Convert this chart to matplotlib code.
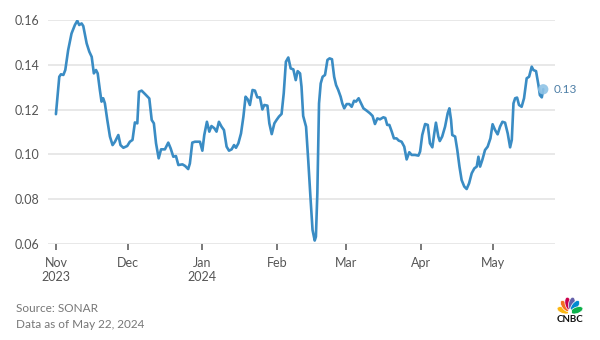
import numpy as np
import matplotlib
matplotlib.use("Agg")
import matplotlib.pyplot as plt
import matplotlib.dates as mdates
from matplotlib.patches import Ellipse
import datetime as dt

# Days since 2023-11-01 and the index value
days = [0, 1.4, 2.1, 3.1, 3.9, 5.1, 6.5, 7.9, 8.9, 9.7, 10.7, 11.4, 12.8, 13.9, 14.9, 15.8,
        16.7, 17.4, 18.3, 19.0, 19.7, 20.4, 21.4, 22.5, 23.6, 24.6, 26.0, 26.9, 28.1, 29.7,
        30.8, 31.9, 32.9, 33.9, 34.6, 35.7, 37.1, 38.9, 39.9, 40.8, 41.7, 42.8, 43.8, 45.4,
        46.8, 47.8, 48.9, 50.0, 51.0, 52.7, 53.8, 55.1, 55.8, 56.8, 57.9, 60.0, 61.0, 61.8,
        62.9, 63.9, 64.8, 66.0, 66.9, 67.9, 69.0, 70.0, 71.1, 72.1, 73.2, 74.2, 75.0, 76.0,
        77.1, 78.1, 79.0, 79.9, 80.8, 81.9, 82.9, 83.9, 85.0, 86.0, 86.8, 88.1, 88.9, 89.9,
        91.0, 91.9, 92.9, 94.0, 94.9, 95.8, 96.8, 97.8, 98.9, 99.9, 100.7, 101.7, 102.3,
        103.0, 104.2, 105.1, 106.1, 106.9, 107.8, 108.3, 108.9, 109.6, 110.3, 111.1, 112.1,
        113.1, 114.0, 115.0, 115.9, 116.7, 117.6, 118.6, 119.3, 120.1, 121.1, 122.2, 123.2,
        124.2, 125.0, 126.1, 127.1, 128.1, 129.4, 130.8, 131.9, 132.9, 133.9, 135.0, 136.4,
        137.2, 138.0, 138.9, 139.9, 140.8, 141.9, 142.8, 144.0, 145.1, 146.1, 147.2, 148.2,
        149.6, 151.0, 151.7, 152.6, 153.8, 154.9, 155.8, 156.8, 157.6, 158.3, 159.3, 159.9,
        160.9, 162.1, 163.2, 163.9, 164.6, 165.1, 166.3, 167.2, 168.1, 169.0, 170.1, 171.1,
        172.1, 173.2, 174.3, 175.3, 176.0, 176.7, 177.6, 178.75, 179.85, 181.0, 181.9, 182.9,
        184.0, 185.0, 186.0, 187.1, 188.2, 189.2, 189.9, 190.6, 191.3, 192.1, 192.9, 194.0,
        195.0, 196.1, 197.1, 198.2, 198.9, 200.0, 201.0, 201.6, 202.4, 203.0]
values = [0.118, 0.1347, 0.1358, 0.1355, 0.1377, 0.1466, 0.154, 0.1578, 0.1597, 0.1578, 0.1585,
          0.1573, 0.1496, 0.1459, 0.1436, 0.1362, 0.1377, 0.1362, 0.1288, 0.1236, 0.1251, 0.1228,
          0.1154, 0.108, 0.1042, 0.1057, 0.1087, 0.1042, 0.103, 0.1038, 0.1057, 0.1065, 0.1143,
          0.1139, 0.128, 0.1285, 0.127, 0.125, 0.1154, 0.1139, 0.105, 0.0983, 0.1023, 0.1023,
          0.1053, 0.1027, 0.099, 0.0993, 0.0953, 0.0956, 0.0949, 0.0935, 0.096, 0.1053, 0.1057,
          0.1057, 0.1017, 0.1087, 0.1146, 0.1102, 0.1127, 0.1117, 0.1102, 0.1146, 0.1124, 0.1109,
          0.1035, 0.1017, 0.1023, 0.1042, 0.103, 0.105, 0.1094, 0.1169, 0.1258, 0.1246, 0.1221,
          0.1288, 0.1285, 0.1255, 0.1255, 0.1201, 0.1221, 0.1218, 0.1139, 0.1091, 0.1139, 0.1154,
          0.1169, 0.1181, 0.1273, 0.1414, 0.1433, 0.1384, 0.138, 0.1332, 0.1372, 0.1362, 0.1303,
          0.1172, 0.1124, 0.0975, 0.0797, 0.0663, 0.0616, 0.0633, 0.0827, 0.1228, 0.1317, 0.1347,
          0.1355, 0.1422, 0.1429, 0.1425, 0.1347, 0.131, 0.1288, 0.1258, 0.1228, 0.1206, 0.1225,
          0.1225, 0.1213, 0.124, 0.1236, 0.1251, 0.1228, 0.1206, 0.1196, 0.1184, 0.1172, 0.1136,
          0.1161, 0.1157, 0.1166, 0.1163, 0.1132, 0.1132, 0.1102, 0.1072, 0.1072, 0.1062, 0.1057,
          0.1035, 0.0978, 0.101, 0.0998, 0.0998, 0.0995, 0.1013, 0.1087, 0.1136, 0.1132, 0.105,
          0.1032, 0.1094, 0.1142, 0.108, 0.106, 0.108, 0.1124, 0.1184, 0.1206, 0.1154, 0.1087,
          0.108, 0.102, 0.0946, 0.0886, 0.0857, 0.0846, 0.0871, 0.0916, 0.0938, 0.0946, 0.099,
          0.0946, 0.0975, 0.102, 0.1035, 0.1072, 0.1135, 0.111, 0.109, 0.1124, 0.1146, 0.1142,
          0.1094, 0.1032, 0.1065, 0.1228, 0.1251, 0.1254, 0.1221, 0.1213, 0.1251, 0.134, 0.1347,
          0.1392, 0.1377, 0.1372, 0.131, 0.1265, 0.1255, 0.1291]

y_ticks = [0.06, 0.08, 0.10, 0.12, 0.14, 0.16]
y_tick_labels = ["0.06", "0.08", "0.10", "0.12", "0.14", "0.16"]
last_label = "0.13"
source_lines = ["Source: SONAR", "Data as of May 22, 2024"]

FONT = ["Lato", "DejaVu Sans"]
plt.rcParams["font.family"] = FONT

start = mdates.date2num(dt.datetime(2023, 11, 1))
x = start + np.array(days)

LINE = "#3a8cc4"
fig = plt.figure(figsize=(6, 3.4), dpi=100)
ax = fig.add_axes([0.08, 0.282, 0.845, 0.659])
ax.plot(x, values, color=LINE, lw=1.9, solid_joinstyle="round", solid_capstyle="round", zorder=3)
ax.scatter([x[-1]], [values[-1]], s=55, color="#8fc3e6", alpha=0.9, zorder=4, edgecolors="none")
ax.text(x[-1] + 4.2, values[-1], last_label, color="#4d7ea6", fontsize=8.5,
        va="center", ha="left", clip_on=False)

ax.set_xlim(start - 3.3, start + 207.9)
ax.set_ylim(0.06, 0.16)
ax.set_yticks(y_ticks)
ax.set_yticklabels(y_tick_labels)
ax.grid(axis="y", color="#e2e2e2", lw=1.1)
ax.set_axisbelow(True)
for s in ax.spines.values():
    s.set_visible(False)

ax.xaxis.set_major_locator(mdates.MonthLocator())
def fmt(v, pos=None):
    d = mdates.num2date(v)
    lab = d.strftime("%b")
    if d.month in (11, 1):
        lab += "\n" + str(d.year)
    return lab
ax.xaxis.set_major_formatter(plt.FuncFormatter(fmt))
ax.tick_params(axis="x", length=4, width=1.1, color="#555555", labelcolor="#555555",
               labelsize=9, pad=5)
ax.tick_params(axis="y", length=0, labelcolor="#555555", labelsize=9, pad=6)

fig.text(16 / 600, 1 - 309 / 340, source_lines[0], color="#777777", fontsize=8.5, va="center")
fig.text(16 / 600, 1 - 324 / 340, source_lines[1], color="#777777", fontsize=8.5, va="center")

# CNBC peacock logo
lax = fig.add_axes([556 / 600, 1 - 314 / 340, 28 / 600, 19 / 340])
lax.set_xlim(-1.15, 1.15)
lax.set_ylim(-0.05, 1.5)
lax.axis("off")
cols = ["#fcb711", "#f37021", "#cc004c", "#6460aa", "#0089d0", "#0db14b"]
for i, c in enumerate(cols):
    ang = np.deg2rad(165 - i * 30)
    r = 0.58
    lax.add_patch(Ellipse((r * np.cos(ang), r * np.sin(ang) * 1.35 + 0.05), 1.05, 0.52,
                          angle=np.rad2deg(np.arctan2(np.sin(ang) * 1.35, np.cos(ang))),
                          facecolor=c, edgecolor="white", lw=0.5))
lax.add_patch(Ellipse((0, 0.12), 0.32, 0.5, facecolor="white", edgecolor="none"))
fig.text(570 / 600, 1 - 320 / 340, "CNBC", fontsize=7, fontweight="bold", color="#111111",
         ha="center", va="center")

fig.savefig("out.png", dpi=100)
